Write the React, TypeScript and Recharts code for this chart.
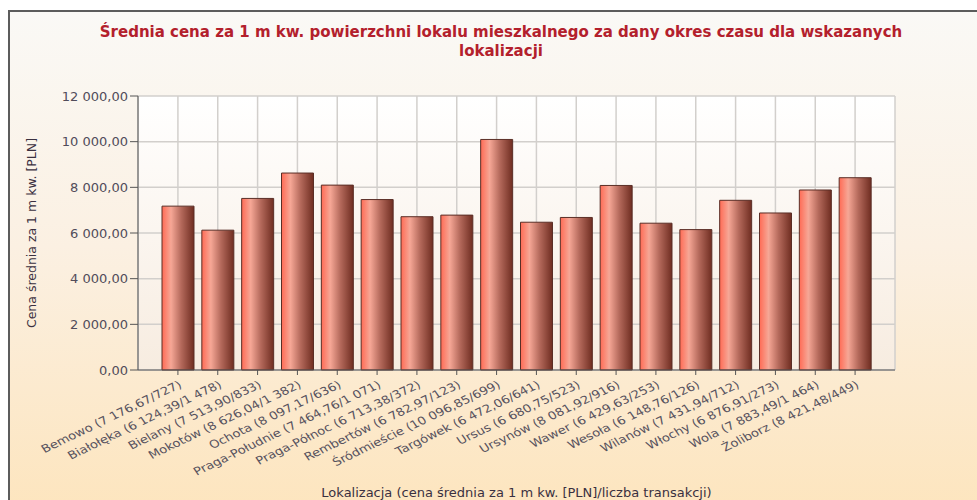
import {
  BarChart,
  Bar,
  XAxis,
  YAxis,
  CartesianGrid,
} from 'recharts';

const title = 'Średnia cena za 1 m kw. powierzchni lokalu mieszkalnego za dany okres czasu dla wskazanych\nlokalizacji';
const yTitle = 'Cena średnia za 1 m kw. [PLN]';
const xTitle = 'Lokalizacja (cena średnia za 1 m kw. [PLN]/liczba transakcji)';

const districts = [
  'Bemowo', 'Białołęka', 'Bielany', 'Mokotów', 'Ochota', 'Praga-Południe',
  'Praga-Północ', 'Rembertów', 'Śródmieście', 'Targówek', 'Ursus', 'Ursynów',
  'Wawer', 'Wesoła', 'Wilanów', 'Włochy', 'Wola', 'Żoliborz',
];
const prices = [
  7176.67, 6124.39, 7513.9, 8626.04, 8097.17, 7464.76,
  6713.38, 6782.97, 10096.85, 6472.06, 6680.75, 8081.92,
  6429.63, 6148.76, 7431.94, 6876.91, 7883.49, 8421.48,
];
const transactions = [
  727, 1478, 833, 1382, 636, 1071,
  372, 123, 699, 641, 523, 916,
  253, 126, 712, 273, 1464, 449,
];
const yTicks = [0, 2000, 4000, 6000, 8000, 10000, 12000];

// "7 176,67" style
const groupThousands = (s: string) => s.replace(/\B(?=(\d{3})+(?!\d))/g, ' ');
const fmtPrice = (v: number) => {
  const [i, d] = v.toFixed(2).split('.');
  return groupThousands(i) + ',' + d;
};

const data = districts.map((name, i) => ({
  label: `${name} (${fmtPrice(prices[i])}/${groupThousands(String(transactions[i]))})`,
  price: prices[i],
}));

const FONT = '"DejaVu Sans", Verdana, sans-serif';

// labels in the original look a bit wide and flat, so stretch them sideways
const XTick = (props: any) => {
  const { x, y, payload } = props;
  return (
    <g transform={`translate(${x + 3}, ${y + 7}) scale(1.2, 1) rotate(-30)`}>
      <text
        x={0}
        y={0}
        textAnchor="end"
        dominantBaseline="middle"
        fontSize={11}
        fontFamily={FONT}
        fill="#57525e"
      >
        {payload.value}
      </text>
    </g>
  );
};

const App = () => {
  return (
    <div style={{ position: 'absolute', left: 0, top: 0, width: 977, height: 500, background: '#fff', overflow: 'hidden' }}>
      <div
        style={{
          position: 'absolute',
          left: 8,
          top: 10,
          width: 1000,
          height: 520,
          borderTop: '2px solid #5c5c5c',
          borderLeft: '2px solid #5c5c5c',
          background: 'linear-gradient(to bottom, #faf9f6 0%, #fbf0e2 45%, #fde4bb 100%)',
        }}
      />
      <div
        style={{
          position: 'absolute',
          left: 25,
          top: 23,
          width: 952,
          textAlign: 'center',
          whiteSpace: 'pre-line',
          color: '#b3202c',
          fontFamily: FONT,
          fontWeight: 'bold',
          fontSize: 15,
          lineHeight: '19px',
        }}
      >
        {title}
      </div>
      <div style={{ position: 'absolute', left: 0, top: 0 }}>
        <BarChart
          width={977}
          height={500}
          data={data}
          margin={{ top: 96, right: 82, bottom: 0, left: 0 }}
          barSize={32}
        >
          <defs>
            <linearGradient id="barFill" x1="0" y1="0" x2="1" y2="0">
              <stop offset="0%" stopColor="#ff6b55" />
              <stop offset="28%" stopColor="#f6a796" />
              <stop offset="60%" stopColor="#b4695b" />
              <stop offset="100%" stopColor="#6f2d21" />
            </linearGradient>
            <linearGradient id="plotBg" x1="0" y1="0" x2="0" y2="1">
              <stop offset="0%" stopColor="#ffffff" />
              <stop offset="100%" stopColor="#f7ece0" />
            </linearGradient>
          </defs>
          <CartesianGrid fill="url(#plotBg)" stroke="#d2cfcc" strokeWidth={1.5} />
          <XAxis
            dataKey="label"
            interval={0}
            height={130}
            padding={{ left: 20, right: 20 }}
            tick={<XTick />}
            tickSize={5}
            stroke="#555"
            label={{
              value: xTitle,
              position: 'insideBottom',
              offset: 3,
              fontSize: 13,
              fontFamily: FONT,
              fill: '#3a3040',
            }}
          />
          <YAxis
            width={138}
            domain={[0, 12000]}
            ticks={yTicks}
            tickFormatter={fmtPrice}
            tickSize={8}
            stroke="#555"
            tick={{ fontSize: 13, fontFamily: FONT, fill: '#514c5a' }}
            label={{
              value: yTitle,
              angle: -90,
              position: 'center',
              dx: -37,
              fontSize: 12.5,
              fontFamily: FONT,
              fill: '#3a3040',
            }}
          />
          <YAxis
            yAxisId="right"
            orientation="right"
            width={0}
            domain={[0, 12000]}
            tick={false}
            tickLine={false}
            stroke="#c8c5c2"
          />
          <Bar
            dataKey="price"
            fill="url(#barFill)"
            stroke="#5a2e26"
            strokeWidth={1}
            isAnimationActive={false}
          />
        </BarChart>
      </div>
    </div>
  );
};

export default App;
